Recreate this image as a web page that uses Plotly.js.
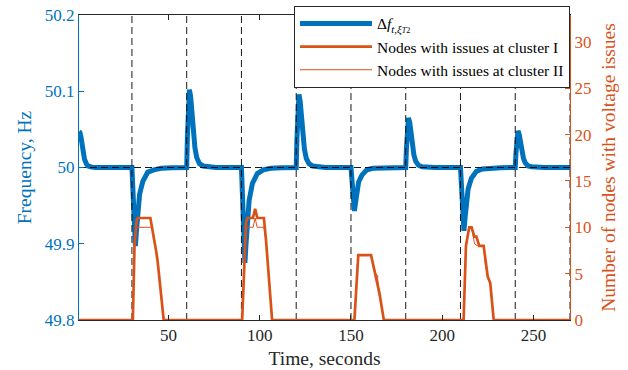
<!DOCTYPE html>
<html>
<head>
<meta charset="utf-8">
<script src="https://cdn.plot.ly/plotly-3.0.1.min.js"></script>
<style>
html,body{margin:0;padding:0;background:#fff;}
#chart{width:628px;height:370px;}
</style>
</head>
<body>
<div id="chart"></div>
<script>
// Frequency trace (seconds, Hz)
const timeF = [1,1.5,2,2.5,3,3.5,4,5,6,8,10,
  30,30.5,31,31.5,31.9,32.5,33.4,34.2,36,38.7,42,46,52,58,
  60,60.4,60.9,61.5,62.2,63,63.8,64.5,65.5,67,69,72,76,
  90,90.5,91,91.5,91.9,92.5,93.4,94.2,96,98.7,102,106,112,118,
  120,120.4,120.9,121.5,122.2,123,123.8,124.5,125.5,127,129,132,136,
  150,150.5,151,151.5,151.9,152.5,153.4,154.2,156,158.7,162,166,172,178,
  180,180.4,180.9,181.5,182.2,183,183.8,184.5,185.5,187,189,192,196,
  210,210.5,211,211.5,211.9,212.5,213.4,214.2,216,218.7,222,226,232,238,
  240,240.4,240.9,241.5,242.2,243,243.8,244.5,245.5,247,249,252,256,270];
const freqHz = [50.047,50.046,50.041,50.033,50.024,50.016,50.011,50.005,50.002,50.0005,50,
  50,49.969,49.928,49.902,49.897,49.918,49.948,49.965,49.982,49.994,49.997,49.999,49.9997,50,
  50,50.041,50.087,50.102,50.092,50.066,50.041,50.026,50.013,50.005,50.002,50.0006,50,
  50,49.963,49.912,49.881,49.875,49.900,49.938,49.957,49.979,49.992,49.997,49.999,49.9996,50,
  50,50.038,50.082,50.096,50.086,50.062,50.038,50.024,50.012,50.005,50.002,50.0006,50,
  50,49.983,49.960,49.946,49.943,49.954,49.972,49.981,49.990,49.997,49.999,49.9994,49.9998,50,
  50,50.026,50.055,50.065,50.059,50.042,50.026,50.016,50.008,50.003,50.001,50.0004,50,
  50,49.975,49.942,49.921,49.917,49.934,49.958,49.972,49.986,49.995,49.998,49.999,49.9998,50,
  50,50.019,50.041,50.048,50.043,50.031,50.019,50.012,50.006,50.002,50.001,50.0003,50,50];

// Nodes with issues, cluster I
const timeC1 = [1,30.5,31.4,32.6,33.2,40.1,43.3,44.1,47.4,
  90.4,92.5,93.2,96.3,97.5,98.7,102.3,103.5,106.8,
  151.9,154,161,163.2,164.1,165.6,168,
  211.7,213,214.8,216.1,217.6,218.7,220.3,222.7,224.9,226.3,228.2,270];
const nodesC1 = [0,0,7.9,10.8,11,11,7.4,6.3,0,
  0,10.5,11,11,12,11,11,8.5,0,
  0,7,7,5,4,2.9,0,
  0,8,10,10,9,9,8,8,4.7,4,0,0];

// Nodes with issues, cluster II
const timeC2 = [1,30.5,31.4,32.4,39.8,41,43.3,44.1,47.4,
  90.4,92.3,96.4,97.5,98.6,102.3,103.5,106.8,
  151.9,154,161,162.5,163.5,164.6,165,166.3,168,
  211.7,213,214.5,215.5,216.5,217.7,219.5,222.7,223.6,224.9,226.3,228.2,270];
const nodesC2 = [0,0,7.9,10,10,10,7.4,6.3,0,
  0,10,10,11,10,10,8.5,0,
  0,7,7,5.8,5,4.8,3,2,0,
  0,8,9.8,10,9.6,8.2,8,8,6,4.7,4,0,0];

// Event markers (seconds) and reference frequency
const eventTimes = [30,60,90,120,150,180,210,240,270];
const nominalHz = 50;
const timeRange = [1,270];
const freqRange = [49.8,50.2];
const nodesRange = [0,32.9];
const xTicks = [50,100,150,200,250];
const yTicks = [49.8,49.9,50,50.1,50.2];
const yTickText = ['49.8','49.9','50','50.1','50.2'];
const y2Ticks = [0,5,10,15,20,25,30];

const BLUE = '#0072BD', ORANGE = '#D95319', DARK = '#262626';
const FONT = 'Liberation Serif, Times New Roman, serif';

const vx = [], vy = [];
eventTimes.forEach(t => { vx.push(t, t, null); vy.push(freqRange[0], freqRange[1], null); });

const traces = [
  {x: timeF, y: freqHz, type: 'scatter', mode: 'lines',
   name: 'Δ<i>f</i><sub><i>t</i>,<i>ξ</i><span style="font-size:8px"><i>T</i>2</span></sub>',
   line: {color: BLUE, width: 5}, xaxis: 'x', yaxis: 'y'},
  {x: vx, y: vy, type: 'scatter', mode: 'lines', showlegend: false, hoverinfo: 'skip',
   line: {color: 'rgba(0,0,0,0.9)', width: 1, dash: '7px,4px'}, xaxis: 'x', yaxis: 'y'},
  {x: timeRange, y: [nominalHz, nominalHz], type: 'scatter', mode: 'lines', showlegend: false, hoverinfo: 'skip',
   line: {color: 'rgba(0,0,0,0.9)', width: 1, dash: '7px,4px'}, xaxis: 'x', yaxis: 'y'},
  {x: timeC1, y: nodesC1, type: 'scatter', mode: 'lines', name: 'Nodes with issues at cluster I',
   line: {color: ORANGE, width: 2.7}, xaxis: 'x', yaxis: 'y2', cliponaxis: false},
  {x: timeC2, y: nodesC2, type: 'scatter', mode: 'lines', name: 'Nodes with issues at cluster II',
   line: {color: ORANGE, width: 1}, xaxis: 'x', yaxis: 'y2', cliponaxis: false}
];

const layout = {
  width: 628, height: 370,
  margin: {l: 79, r: 58, t: 15, b: 50, autoexpand: false},
  paper_bgcolor: '#fff', plot_bgcolor: '#fff',
  font: {family: FONT, size: 17, color: DARK},
  showlegend: true,
  legend: {x: 1, xanchor: 'right', y: 1.03, yanchor: 'top', bgcolor: '#fff',
           bordercolor: DARK, borderwidth: 1, font: {family: FONT, size: 15.5, color: '#000'},
           tracegroupgap: 0, itemwidth: 72},
  xaxis: {range: timeRange, tickvals: xTicks, ticks: 'inside', ticklen: 5, tickcolor: DARK,
          showline: true, linecolor: DARK, linewidth: 1, mirror: 'ticks', showgrid: false, zeroline: false,
          tickfont: {family: FONT, size: 17, color: DARK},
          title: {text: 'Time, seconds', font: {family: FONT, size: 19.5, color: DARK}, standoff: 6}},
  yaxis: {range: freqRange, tickvals: yTicks, ticktext: yTickText, ticks: 'inside', ticklen: 5, tickcolor: BLUE,
          showline: true, linecolor: BLUE, linewidth: 1, showgrid: false, zeroline: false,
          tickfont: {family: FONT, size: 17, color: BLUE},
          title: {text: 'Frequency, Hz', font: {family: FONT, size: 19.5, color: BLUE}, standoff: 8}},
  yaxis2: {range: nodesRange, tickvals: y2Ticks, ticks: 'inside', ticklen: 5, tickcolor: ORANGE,
           overlaying: 'y', side: 'right', anchor: 'x',
           showline: true, linecolor: ORANGE, linewidth: 1, showgrid: false, zeroline: false,
           tickfont: {family: FONT, size: 17, color: ORANGE},
           title: {text: 'Number of nodes with voltage issues', font: {family: FONT, size: 19.5, color: ORANGE}, standoff: 10}}
};

Plotly.newPlot('chart', traces, layout, {displayModeBar: false, staticPlot: true});
</script>
</body>
</html>
